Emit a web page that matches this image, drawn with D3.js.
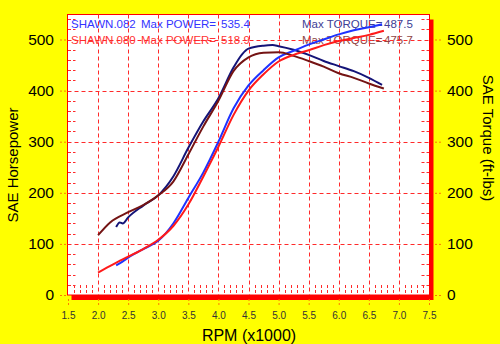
<!DOCTYPE html>
<html><head><meta charset="utf-8">
<script src="https://cdn.jsdelivr.net/npm/d3@7"></script>
<style>
html,body{margin:0;padding:0;background:#ffff00;}
svg{display:block;font-family:"Liberation Sans",Arial,sans-serif;}
</style></head>
<body>
<script>
// ---- data ----
const xTicks = [1.5,2.0,2.5,3.0,3.5,4.0,4.5,5.0,5.5,6.0,6.5,7.0,7.5];
const yTicks = [0,100,200,300,400,500];

const rpmPower082 = [2.3,2.4,2.5,2.75,3.0,3.25,3.5,3.75,4.0,4.25,4.5,4.75,5.0,5.25,5.5,5.75,6.0,6.25,6.5,6.72];
const power082    = [58,65,73,90,106,140,190,240,300,365,410,440,465,478,490,500,510,518,524,530];

const rpmPower080 = [2.0,2.25,2.5,2.75,3.0,3.25,3.5,3.75,4.0,4.25,4.5,4.75,5.0,5.25,5.5,5.75,6.0,6.25,6.5,6.75];
const power080    = [44,60,75,90,108,135,177,232,290,352,400,432,457,470,479,489,497,503,509,517];

const rpmTorque082 = [2.3,2.36,2.41,2.5,2.75,3.0,3.25,3.5,3.75,4.0,4.25,4.4,4.5,4.75,4.9,5.0,5.25,5.5,5.75,6.0,6.25,6.5,6.72];
const torque082    = [133,142,140,152,175,195,232,288,340,385,445,472,482,488,489,487,480,470,458,448,438,425,411];

const rpmTorque080 = [2.0,2.2,2.5,2.75,3.0,3.25,3.5,3.75,4.0,4.25,4.5,4.75,5.0,5.25,5.5,5.75,6.0,6.25,6.5,6.75];
const torque080    = [117,142,162,176,195,222,275,330,380,438,465,474,475,468,458,447,434,425,414,404];

const legendNames  = ["SHAWN.082","SHAWN.080"];
const legendPower  = ["535.4","518.9"];
const legendTorque = ["487.5","475.7"];

// ---- layout ----
const W = 500, H = 344;
const svg = d3.select("body").append("svg").attr("width",W).attr("height",H);
svg.append("rect").attr("width",W).attr("height",H).attr("fill","#ffff00");

const x = d3.scaleLinear().domain([1.5,7.5]).range([68,429]);
const y = d3.scaleLinear().domain([0,500]).range([295,39.5]);
const pL = 67.5, pR = 429.5, pT = 14.5, pB = 295;

// shadow + plot box
svg.append("rect").attr("x",pL+4).attr("y",pT+5).attr("width",pR-pL).attr("height",pB-pT)
  .attr("fill","#ff0000");
svg.append("rect").attr("x",pL).attr("y",pT).attr("width",pR-pL).attr("height",pB-pT)
  .attr("fill","#ffffff").attr("stroke","#ff0000").attr("stroke-width",1);

// legend text (pieces placed like the original's fixed columns)
const lg = svg.append("g").style("font-size","11.5px");
const legRows = [
  {yy:28, name:legendNames[0], p:legendPower[0], t:legendTorque[0], c1:"#3333ff", c2:"#404095"},
  {yy:44, name:legendNames[1], p:legendPower[1], t:legendTorque[1], c1:"#ff3333", c2:"#904545"}
];
legRows.forEach(r=>{
  lg.append("text").attr("x",71).attr("y",r.yy).attr("fill",r.c1).text(r.name);
  lg.append("text").attr("x",141).attr("y",r.yy).attr("fill",r.c1).text("Max POWER=");
  lg.append("text").attr("x",221).attr("y",r.yy).attr("fill",r.c1).text(r.p);
  lg.append("text").attr("x",302).attr("y",r.yy).attr("fill",r.c2).text("Max TORQUE=");
  lg.append("text").attr("x",384).attr("y",r.yy).attr("fill",r.c2).text(r.t);
});

const g = svg.append("g");
const gridCol = "#ff2a2a";
// vertical grid
g.selectAll(".vg").data(xTicks.filter(d=>d>1.5&&d<7.5)).join("line")
  .attr("x1",d=>Math.round(x(d))+0.5).attr("x2",d=>Math.round(x(d))+0.5)
  .attr("y1",pT).attr("y2",pB)
  .attr("stroke",gridCol).attr("stroke-dasharray","4,3");
// horizontal grid
g.selectAll(".hg").data(yTicks.filter(d=>d>0)).join("line")
  .attr("y1",d=>Math.round(y(d))+0.5).attr("y2",d=>Math.round(y(d))+0.5)
  .attr("x1",pL).attr("x2",pR)
  .attr("stroke",gridCol).attr("stroke-dasharray","4,3");
// minor ticks left/right (every 20)
const minorY = d3.range(20,550,20).filter(d=>d%100!==0);
g.selectAll(".ml").data(minorY).join("line")
  .attr("y1",d=>Math.round(y(d))+0.5).attr("y2",d=>Math.round(y(d))+0.5)
  .attr("x1",pL+0.5).attr("x2",pL+8)
  .attr("stroke",gridCol).attr("stroke-dasharray","3,2");
g.selectAll(".mr").data(minorY).join("line")
  .attr("y1",d=>Math.round(y(d))+0.5).attr("y2",d=>Math.round(y(d))+0.5)
  .attr("x1",pR-8).attr("x2",pR-0.5)
  .attr("stroke",gridCol).attr("stroke-dasharray","3,2");
// minor ticks bottom (every 0.1)
const minorX = d3.range(16,75,1).map(d=>d/10).filter(d=>Math.round(d*10)%5!==0);
g.selectAll(".mb").data(minorX).join("line")
  .attr("x1",d=>Math.round(x(d))+0.5).attr("x2",d=>Math.round(x(d))+0.5)
  .attr("y1",pB-10).attr("y2",pB)
  .attr("stroke",gridCol).attr("stroke-dasharray","3,2");

// curves
const line = d3.line().x(d=>x(d[0])).y(d=>y(d[1])).curve(d3.curveMonotoneX);
const series = [
  {r:rpmTorque082, v:torque082, c:"#141478"},
  {r:rpmPower082,  v:power082,  c:"#1e32ff"},
  {r:rpmTorque080, v:torque080, c:"#741414"},
  {r:rpmPower080,  v:power080,  c:"#ff1a1a"}
];
svg.selectAll(".curve").data(series).join("path")
  .attr("d",s=>line(s.r.map((r,i)=>[r,s.v[i]])))
  .attr("fill","none").attr("stroke",s=>s.c).attr("stroke-width",2);

// axes
const tickCol = "#ff7a00";
function styleAxis(sel){
  sel.select(".domain").remove();
  sel.selectAll(".tick line").attr("stroke",tickCol).attr("stroke-dasharray","2,2");
}
const ax = svg.append("g").attr("transform","translate(66,0)")
  .call(d3.axisLeft(y).tickValues(yTicks).tickSize(6).tickPadding(6).tickFormat(d3.format("d")));
styleAxis(ax);
ax.selectAll("text").attr("fill","#000").style("font-size","15.5px").style("font-family","'Liberation Sans',Arial,sans-serif");

const ar = svg.append("g").attr("transform","translate(435,0)")
  .call(d3.axisRight(y).tickValues(yTicks).tickSize(6).tickPadding(6).tickFormat(d3.format("d")));
styleAxis(ar);
ar.selectAll("text").attr("fill","#000").style("font-size","15.5px").style("font-family","'Liberation Sans',Arial,sans-serif");

const ab = svg.append("g").attr("transform","translate(0,299)")
  .call(d3.axisBottom(x).tickValues(xTicks).tickSize(7).tickPadding(6).tickFormat(d3.format(".1f")));
styleAxis(ab);
ab.selectAll("text").attr("fill","#333").style("font-size","10px").style("font-family","'Liberation Sans',Arial,sans-serif");

// titles
svg.append("text").attr("transform","translate(18,165) rotate(-90)").attr("text-anchor","middle")
  .style("font-size","15px").attr("fill","#000").text("SAE Horsepower");
svg.append("text").attr("transform","translate(483,138) rotate(90)").attr("text-anchor","middle")
  .style("font-size","15px").attr("fill","#000").text("SAE Torque (ft-lbs)");
svg.append("text").attr("x",249).attr("y",341).attr("text-anchor","middle")
  .style("font-size","16px").attr("fill","#000").text("RPM (x1000)");
</script>
</body></html>
